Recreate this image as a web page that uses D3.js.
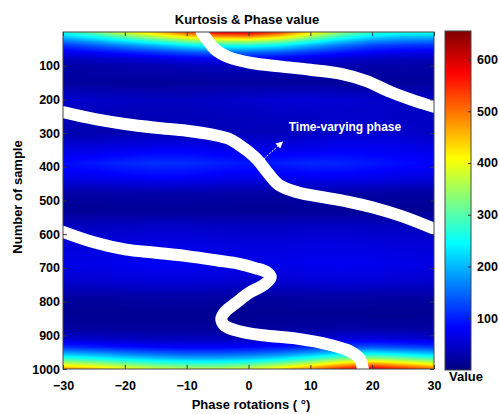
<!DOCTYPE html>
<html>
<head>
<meta charset="utf-8">
<script src="https://cdn.jsdelivr.net/npm/d3@7"></script>
<style>
  body { margin: 0; background: #fff; }
  text { font-family: "Liberation Sans", Arial, sans-serif; font-weight: bold; }
</style>
</head>
<body>
<svg id="chart" width="499" height="414"></svg>
<script>
// *******************
// data
// *******************

// heatmap grid: columns are phase rotations, rows are sample numbers
const phases = [-30, -25, -20, -15, -10, -5, 0, 5, 10, 15, 20, 25, 30];
const samples = [0, 12, 25, 40, 60, 80, 100, 150, 200, 250, 300, 350, 390, 430, 480,
  530, 580, 630, 690, 740, 790, 840, 880, 910, 935, 955, 970, 985, 1000];

// kurtosis value per (sample row, phase column)
const kurtosis = [
  [265, 320, 390, 450, 530, 590, 600, 540, 430, 340, 285, 265, 260],
  [215, 260, 320, 375, 440, 490, 500, 450, 360, 285, 235, 215, 210],
  [165, 200, 245, 290, 340, 375, 380, 345, 280, 220, 180, 165, 160],
  [115, 140, 170, 200, 235, 260, 262, 240, 195, 155, 125, 115, 112],
  [70, 82, 98, 115, 135, 150, 150, 138, 115, 95, 78, 70, 68],
  [40, 45, 52, 60, 70, 76, 76, 72, 62, 52, 44, 40, 38],
  [25, 27, 30, 33, 37, 40, 40, 38, 34, 30, 27, 25, 24],
  [18, 17, 16, 16, 17, 18, 18, 18, 17, 16, 16, 17, 18],
  [52, 48, 44, 42, 42, 45, 50, 55, 56, 53, 48, 45, 45],
  [38, 36, 34, 34, 36, 38, 40, 42, 44, 46, 46, 44, 42],
  [30, 30, 32, 34, 36, 36, 36, 38, 44, 50, 52, 48, 44],
  [62, 66, 72, 76, 76, 72, 68, 68, 72, 76, 76, 72, 66],
  [88, 96, 106, 112, 110, 102, 96, 100, 106, 104, 96, 88, 82],
  [68, 72, 78, 82, 80, 74, 70, 72, 76, 76, 72, 66, 62],
  [22, 22, 24, 26, 26, 24, 22, 22, 24, 24, 22, 20, 20],
  [14, 14, 15, 16, 16, 15, 14, 14, 15, 15, 14, 14, 14],
  [42, 44, 46, 48, 48, 46, 44, 44, 46, 46, 44, 42, 40],
  [58, 60, 62, 64, 64, 62, 60, 60, 62, 62, 60, 58, 56],
  [66, 68, 72, 76, 76, 72, 68, 68, 72, 74, 72, 68, 64],
  [50, 52, 54, 56, 56, 54, 52, 52, 54, 56, 54, 52, 50],
  [20, 20, 21, 22, 22, 21, 20, 20, 21, 22, 21, 20, 20],
  [12, 12, 12, 13, 13, 12, 12, 12, 13, 13, 12, 12, 12],
  [20, 19, 18, 18, 18, 18, 19, 20, 22, 24, 24, 22, 21],
  [50, 46, 42, 40, 38, 38, 40, 44, 50, 56, 60, 56, 52],
  [110, 100, 90, 82, 78, 78, 82, 92, 108, 125, 135, 125, 115],
  [200, 185, 165, 150, 140, 140, 148, 165, 195, 230, 250, 230, 210],
  [280, 260, 235, 215, 200, 200, 210, 235, 275, 325, 350, 325, 295],
  [380, 355, 320, 295, 280, 280, 295, 330, 380, 440, 480, 440, 400],
  [480, 450, 410, 380, 365, 365, 385, 430, 490, 560, 600, 560, 510]
];

// time-varying phase track, [phase, sample], wraps at +-30
const trackA = [[-7.6, 0], [-6.6, 25], [-5.5, 50], [-3.2, 75], [0.5, 92], [5, 102], [10, 112],
  [15, 124], [19, 145], [23, 178], [27, 205], [30, 222]];
const trackB = [[-30, 238], [-25, 258], [-20, 273], [-15, 284], [-10, 293], [-6, 304], [-3, 318],
  [-1.5, 335], [0, 355], [1.5, 380], [3, 415], [5, 455], [8, 476], [12, 490], [16, 503],
  [20, 520], [25, 548], [30, 584]];
const trackC = [[-30, 593], [-25, 624], [-20, 645], [-15, 655], [-10, 665], [-5, 678], [-1.5, 688],
  [1, 700], [3, 713], [3.6, 728], [2.5, 750], [0, 775], [-2.1, 805], [-3.8, 830], [-4.4, 852],
  [-3.8, 872], [-1.5, 888], [2.3, 900], [7.8, 910], [13.1, 928], [16.5, 948], [18, 970], [18.5, 1000]];

const xTicks = [-30, -20, -10, 0, 10, 20, 30];
const yTicks = [100, 200, 300, 400, 500, 600, 700, 800, 900, 1000];
const cbTicks = [100, 200, 300, 400, 500, 600];
const cbRange = [0, 655];

// annotation: arrow tail, arrow head, label position (phase, sample)
const arrowFrom = [2.1, 383];
const arrowTo = [5.5, 326];
const labelAt = [6.5, 295];

// *******************
// layout
// *******************
const PLOT = { LEFT: 63, RIGHT: 434, TOP: 32, BOTTOM: 369 };
const CB = { LEFT: 445, RIGHT: 471, TOP: 31, BOTTOM: 370 };
const FONT = 12.5;

const svg = d3.select("#chart");

const x = d3.scaleLinear().domain([-30, 30]).range([PLOT.LEFT, PLOT.RIGHT]);
const y = d3.scaleLinear().domain([0, 1000]).range([PLOT.TOP, PLOT.BOTTOM]);

// jet colormap
const jetStops = [0, 0.125, 0.375, 0.625, 0.875, 1];
const jetColors = ["#000080", "#0000ff", "#00ffff", "#ffff00", "#ff0000", "#800000"];
const color = d3.scaleLinear()
  .domain(jetStops.map((t) => cbRange[0] + t * (cbRange[1] - cbRange[0])))
  .range(jetColors)
  .clamp(true);

// heatmap drawn into a canvas with interpolated shading, then placed in the svg
function cellIndex(arr, v) {
  let i = d3.bisectRight(arr, v) - 1;
  i = Math.max(0, Math.min(arr.length - 2, i));
  const t = Math.max(0, Math.min(1, (v - arr[i]) / (arr[i + 1] - arr[i])));
  return [i, t];
}

const W = PLOT.RIGHT - PLOT.LEFT;
const H = PLOT.BOTTOM - PLOT.TOP;
const canvas = document.createElement("canvas");
canvas.width = W;
canvas.height = H;
const ctx = canvas.getContext("2d");
const img = ctx.createImageData(W, H);
for (let j = 0; j < H; j++) {
  const [r, ty] = cellIndex(samples, y.invert(PLOT.TOP + j + 0.5));
  for (let i = 0; i < W; i++) {
    const [c, tx] = cellIndex(phases, x.invert(PLOT.LEFT + i + 0.5));
    const top = kurtosis[r][c] * (1 - tx) + kurtosis[r][c + 1] * tx;
    const bot = kurtosis[r + 1][c] * (1 - tx) + kurtosis[r + 1][c + 1] * tx;
    const col = d3.rgb(color(top * (1 - ty) + bot * ty));
    const k = (j * W + i) * 4;
    img.data[k] = col.r;
    img.data[k + 1] = col.g;
    img.data[k + 2] = col.b;
    img.data[k + 3] = 255;
  }
}
ctx.putImageData(img, 0, 0);

svg.append("image")
  .attr("x", PLOT.LEFT)
  .attr("y", PLOT.TOP)
  .attr("width", W)
  .attr("height", H)
  .attr("preserveAspectRatio", "none")
  .attr("href", canvas.toDataURL());

// clip for the phase track
svg.append("defs")
  .append("clipPath")
  .attr("id", "plot-clip")
  .append("rect")
  .attr("x", PLOT.LEFT)
  .attr("y", PLOT.TOP)
  .attr("width", W)
  .attr("height", H);

const line = d3.line()
  .x((d) => x(d[0]))
  .y((d) => y(d[1]))
  .curve(d3.curveCatmullRom.alpha(0.5));

svg.append("g")
  .attr("clip-path", "url(#plot-clip)")
  .selectAll("path")
  .data([trackA, trackB, trackC])
  .join("path")
  .attr("d", line)
  .attr("fill", "none")
  .attr("stroke", "#fff")
  .attr("stroke-width", 12)
  .attr("stroke-linecap", "round")
  .attr("stroke-linejoin", "round");

// *******************
// axes (ticks point inwards, MATLAB style)
// *******************
function styleAxis(g) {
  g.select(".domain").remove();
  g.attr("font-size", FONT)
    .attr("font-family", '"Liberation Sans", Arial, sans-serif')
    .attr("color", "#333");
  g.selectAll("text").attr("fill", "#000");
}

svg.append("g")
  .attr("transform", `translate(0,${PLOT.BOTTOM})`)
  .call(d3.axisBottom(x).tickValues(xTicks).tickSize(-4).tickPadding(12))
  .call(styleAxis);

svg.append("g")
  .attr("transform", `translate(0,${PLOT.TOP})`)
  .call(d3.axisTop(x).tickValues(xTicks).tickSize(-4).tickFormat(""))
  .call(styleAxis);

svg.append("g")
  .attr("transform", `translate(${PLOT.LEFT},0)`)
  .call(d3.axisLeft(y).tickValues(yTicks).tickSize(-4).tickPadding(3).tickFormat(d3.format("d")))
  .call(styleAxis);

svg.append("g")
  .attr("transform", `translate(${PLOT.RIGHT},0)`)
  .call(d3.axisRight(y).tickValues(yTicks).tickSize(-4).tickFormat(""))
  .call(styleAxis);

svg.append("rect")
  .attr("x", PLOT.LEFT)
  .attr("y", PLOT.TOP)
  .attr("width", W)
  .attr("height", H)
  .attr("fill", "none")
  .attr("stroke", "#444")
  .attr("stroke-width", 1);

// *******************
// annotation
// *******************
svg.select("defs")
  .append("marker")
  .attr("id", "arrow-head")
  .attr("viewBox", "0 0 10 10")
  .attr("refX", 9)
  .attr("refY", 5)
  .attr("markerWidth", 7)
  .attr("markerHeight", 7)
  .attr("markerUnits", "userSpaceOnUse")
  .attr("orient", "auto")
  .append("path")
  .attr("d", "M0,0 L10,5 L0,10 Z")
  .attr("fill", "#fff");

svg.append("line")
  .attr("x1", x(arrowFrom[0]))
  .attr("y1", y(arrowFrom[1]))
  .attr("x2", x(arrowTo[0]))
  .attr("y2", y(arrowTo[1]))
  .attr("stroke", "#fff")
  .attr("stroke-width", 1)
  .attr("stroke-dasharray", "2,1.5")
  .attr("marker-end", "url(#arrow-head)");

svg.append("text")
  .attr("x", x(labelAt[0]))
  .attr("y", y(labelAt[1]))
  .attr("fill", "#fff")
  .attr("font-size", 12)
  .text("Time-varying phase");

// *******************
// colorbar
// *******************
const cb = d3.scaleLinear().domain(cbRange).range([CB.BOTTOM, CB.TOP]);

const grad = svg.select("defs")
  .append("linearGradient")
  .attr("id", "jet")
  .attr("x1", 0).attr("y1", 1)
  .attr("x2", 0).attr("y2", 0);
grad.selectAll("stop")
  .data(jetStops)
  .join("stop")
  .attr("offset", (d) => d)
  .attr("stop-color", (d, i) => jetColors[i]);

svg.append("rect")
  .attr("x", CB.LEFT)
  .attr("y", CB.TOP)
  .attr("width", CB.RIGHT - CB.LEFT)
  .attr("height", CB.BOTTOM - CB.TOP)
  .attr("fill", "url(#jet)")
  .attr("stroke", "#444")
  .attr("stroke-width", 1);

svg.append("g")
  .attr("transform", `translate(${CB.RIGHT},0)`)
  .call(d3.axisRight(cb).tickValues(cbTicks).tickSize(-3).tickPadding(6))
  .call(styleAxis);

svg.append("text")
  .attr("x", 449)
  .attr("y", 381)
  .attr("font-size", 13)
  .text("Value");

// *******************
// titles
// *******************
svg.append("text")
  .attr("x", 247)
  .attr("y", 24)
  .attr("text-anchor", "middle")
  .attr("font-size", 13)
  .text("Kurtosis & Phase value");

svg.append("text")
  .attr("x", 251)
  .attr("y", 409)
  .attr("text-anchor", "middle")
  .attr("font-size", 13)
  .text("Phase rotations ( °)");

svg.append("text")
  .attr("transform", `translate(22,197) rotate(-90)`)
  .attr("text-anchor", "middle")
  .attr("font-size", 13)
  .text("Number of sample");
</script>
</body>
</html>
